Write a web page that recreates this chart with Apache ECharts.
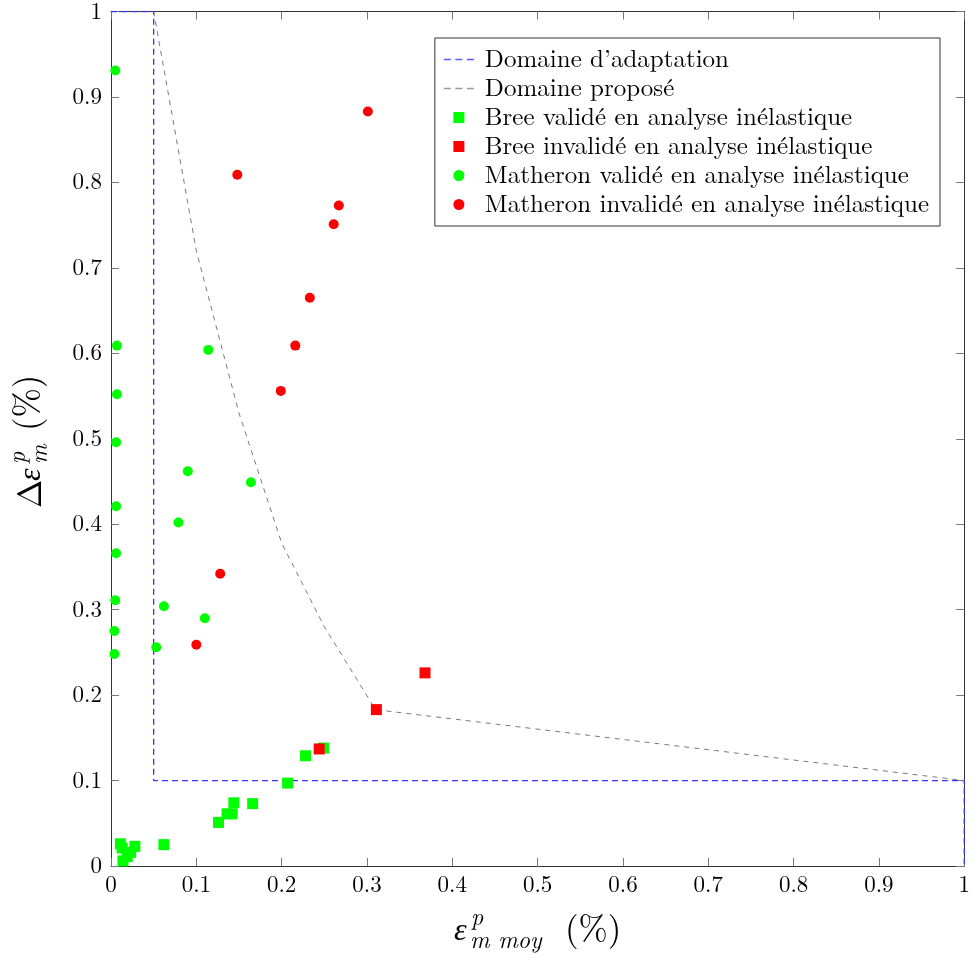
<!DOCTYPE html>
<html>
<head>
<meta charset="utf-8">
<script src="https://cdn.jsdelivr.net/npm/echarts@6/dist/echarts.min.js"></script>
<style>
  html, body { margin: 0; padding: 0; background: #fff; }
  #main { width: 973px; height: 959px; }
</style>
</head>
<body>
<div id="main"></div>
<script>
const tickLabels = ["0", "0.1", "0.2", "0.3", "0.4", "0.5", "0.6", "0.7", "0.8", "0.9", "1"]

// domaine d'adaptation (bleu) et domaine proposé (gris)
const domaineAdaptation = [[0, 1], [0.05, 1], [0.05, 0.1], [1, 0.1], [1, 0]]
const domainePropose = [[0.05, 1], [0.1, 0.72], [0.15, 0.53], [0.2, 0.378], [0.25, 0.28], [0.31, 0.183], [1, 0.1]]

const breeValide = [
  [0.011, 0.026], [0.013, 0.021], [0.028, 0.023], [0.023, 0.016], [0.019, 0.011], [0.014, 0.006],
  [0.062, 0.025], [0.126, 0.051], [0.136, 0.061], [0.142, 0.061], [0.144, 0.074],
  [0.166, 0.073], [0.207, 0.097], [0.228, 0.129], [0.249, 0.138]
]
const breeInvalide = [[0.244, 0.137], [0.311, 0.183], [0.368, 0.226]]

const matheronValide = [
  [0.005, 0.931], [0.007, 0.609], [0.007, 0.552], [0.006, 0.496], [0.114, 0.604],
  [0.090, 0.462], [0.164, 0.449], [0.006, 0.421], [0.079, 0.402], [0.006, 0.366],
  [0.005, 0.311], [0.062, 0.304], [0.110, 0.290], [0.004, 0.275], [0.004, 0.248],
  [0.053, 0.256]
]
const matheronInvalide = [
  [0.301, 0.883], [0.148, 0.809], [0.267, 0.773], [0.261, 0.751], [0.233, 0.665],
  [0.216, 0.609], [0.199, 0.556], [0.128, 0.342], [0.100, 0.259]
]

const serif = "'Latin Modern Roman', 'Liberation Serif', 'DejaVu Serif', serif"
const greek = "'Liberation Serif', serif"
const fmt = (v) => tickLabels[Math.round(v * 10)] ?? ""

const dashIcon = "path://M0,0h7v1.5h-7zM11.5,0h7v1.5h-7zM23,0h7v1.5h-7z"
const squareIcon = "path://M0,0h10v10h-10z"

const axisBase = {
  type: "value",
  min: 0,
  max: 1,
  interval: 0.1,
  axisLine: { show: true, onZero: false, lineStyle: { color: "#333", width: 1 } },
  axisTick: { show: true, inside: true, length: 8, lineStyle: { color: "#777" } },
  splitLine: { show: false },
}

const myChart = echarts.init(document.getElementById("main"))
const option = {
  animation: false,
  grid: { left: 111, top: 11, width: 855, height: 855 },
  xAxis: [
    { ...axisBase, position: "bottom",
      axisLabel: { formatter: fmt, fontFamily: serif, fontSize: 23, color: "#000", margin: 7 } },
    { ...axisBase, position: "top", axisLabel: { show: false } },
  ],
  yAxis: [
    { ...axisBase, position: "left",
      axisLabel: { formatter: fmt, fontFamily: serif, fontSize: 23, color: "#000", margin: 9 } },
    { ...axisBase, position: "right", axisLabel: { show: false } },
  ],
  legend: {
    right: 33,
    top: 38,
    orient: "vertical",
    align: "left",
    backgroundColor: "#fff",
    borderColor: "#333",
    borderWidth: 1,
    borderRadius: 0,
    padding: [9, 11, 9, 9],
    itemWidth: 30,
    itemHeight: 11,
    itemGap: 4,
    textStyle: { fontFamily: serif, fontSize: 25, color: "#000", lineHeight: 22, padding: [0, 0, 0, 6] },
    data: [
      { name: "Domaine d\u2019adaptation", icon: dashIcon },
      { name: "Domaine proposé", icon: dashIcon },
      { name: "Bree validé en analyse inélastique", icon: squareIcon },
      { name: "Bree invalidé en analyse inélastique", icon: squareIcon },
      { name: "Matheron validé en analyse inélastique", icon: "circle" },
      { name: "Matheron invalidé en analyse inélastique", icon: "circle" },
    ],
  },
  series: [
    {
      name: "Domaine d\u2019adaptation",
      type: "line",
      data: domaineAdaptation,
      symbol: "none",
      lineStyle: { color: "#3535ff", width: 1.3, type: [6, 4] },
      itemStyle: { color: "#5a5aff" },
      z: 3,
    },
    {
      name: "Domaine proposé",
      type: "line",
      data: domainePropose,
      symbol: "none",
      lineStyle: { color: "#7a7a7a", width: 1, type: [5, 5] },
      itemStyle: { color: "#9a9a9a" },
      z: 3,
    },
    {
      name: "Bree validé en analyse inélastique",
      type: "scatter",
      data: breeValide,
      symbol: "rect",
      symbolSize: 11,
      itemStyle: { color: "#00ff00", opacity: 1 },
      z: 4,
    },
    {
      name: "Bree invalidé en analyse inélastique",
      type: "scatter",
      data: breeInvalide,
      symbol: "rect",
      symbolSize: 11,
      itemStyle: { color: "#ff0000", opacity: 1 },
      z: 5,
    },
    {
      name: "Matheron validé en analyse inélastique",
      type: "scatter",
      data: matheronValide,
      symbol: "circle",
      symbolSize: 10,
      itemStyle: { color: "#00ff00", opacity: 1 },
      z: 6,
    },
    {
      name: "Matheron invalidé en analyse inélastique",
      type: "scatter",
      data: matheronInvalide,
      symbol: "circle",
      symbolSize: 10,
      itemStyle: { color: "#ff0000", opacity: 1 },
      z: 7,
    },
  ],
  graphic: [
    // titre de l'axe x : ε^p_{m moy} (%)
    {
      type: "group",
      left: 454,
      top: 906,
      children: [
        { type: "text", x: 0, y: 10, style: { text: "ε", font: `italic 32px ${greek}`, fill: "#000" } },
        { type: "text", x: 17, y: 0, style: { text: "p", font: `italic 24px ${serif}`, fill: "#000" } },
        { type: "text", x: 16, y: 23, style: { text: "m moy", font: `italic 24px ${serif}`, fill: "#000" } },
        { type: "text", x: 111, y: 6, style: { text: "(%)", font: `35px ${serif}`, fill: "#000" } },
      ],
    },
    // titre de l'axe y : Δε^p_m (%)
    {
      type: "group",
      x: 14,
      y: 508,
      rotation: Math.PI / 2,
      children: [
        { type: "text", x: 0, y: 0, style: { text: "Δ", font: `34px ${serif}`, fill: "#000" } },
        { type: "text", x: 27, y: 2, style: { text: "ε", font: `italic 32px ${greek}`, fill: "#000" } },
        { type: "text", x: 44, y: -8, style: { text: "p", font: `italic 24px ${serif}`, fill: "#000" } },
        { type: "text", x: 44, y: 14, style: { text: "m", font: `italic 24px ${serif}`, fill: "#000" } },
        { type: "text", x: 77, y: -4, style: { text: "(%)", font: `35px ${serif}`, fill: "#000" } },
      ],
    },
  ],
}

option && myChart.setOption(option)
</script>
</body>
</html>
